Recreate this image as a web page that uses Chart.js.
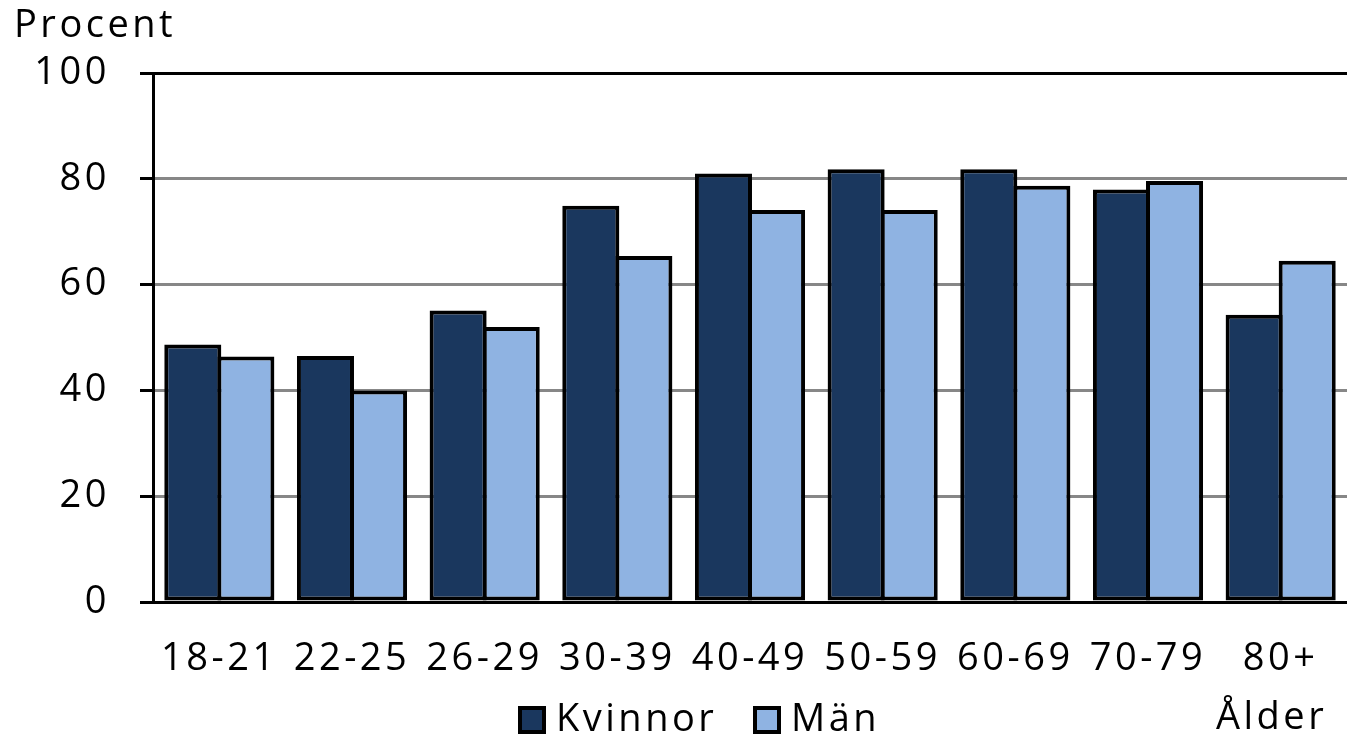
<!DOCTYPE html>
<html>
<head>
<meta charset="utf-8">
<script src="https://cdn.jsdelivr.net/npm/chart.js@4.4.0/dist/chart.umd.min.js"></script>
<style>
  html, body { margin: 0; padding: 0; background: #fff; }
  #wrap { width: 1347px; height: 739px; }
</style>
</head>
<body>
<div id="wrap"><canvas id="c" width="1347" height="739"></canvas></div>
<script>
const ageGroups = ['18-21', '22-25', '26-29', '30-39', '40-49', '50-59', '60-69', '70-79', '80+'];
const kvinnor = [48.7, 46.5, 55.1, 74.9, 81.0, 81.8, 81.8, 78.0, 54.3];
const man = [46.4, 40.0, 52.0, 65.4, 74.1, 74.1, 78.7, 79.6, 64.5];
const yTicks = [0, 20, 40, 60, 80, 100];

const FONT = "'Open Sans', 'Noto Sans', sans-serif";
const SPACING = '3.5px';

// wide letter spacing like the original
const spacing = {
  id: 'spacing',
  beforeInit(chart) { chart.ctx.letterSpacing = SPACING; },
  beforeDraw(chart) { chart.ctx.letterSpacing = SPACING; }
};

// titles and legend drawn on top of the canvas
const extras = {
  id: 'extras',
  afterDraw(chart) {
    const ctx = chart.ctx;
    ctx.save();
    ctx.letterSpacing = SPACING;
    ctx.fillStyle = '#000';
    ctx.font = `38px ${FONT}`;
    ctx.textBaseline = 'middle';
    ctx.textAlign = 'left';
    ctx.fillText('Procent', 14, 26);
    ctx.fillText('Ålder', 1216, 718);

    let x = 520;
    chart.data.datasets.forEach(ds => {
      ctx.fillStyle = ds.backgroundColor;
      ctx.fillRect(x, 708, 24, 24);
      ctx.lineWidth = 4;
      ctx.strokeStyle = '#000';
      ctx.strokeRect(x, 708, 24, 24);
      ctx.fillStyle = '#000';
      ctx.fillText(ds.label, x + 36, 720);
      x += 235;
    });
    ctx.restore();
  }
};

new Chart(document.getElementById('c'), {
  type: 'bar',
  data: {
    labels: ageGroups,
    datasets: [
      { label: 'Kvinnor', data: kvinnor, backgroundColor: '#1a375e', borderColor: '#000', borderWidth: 4, borderSkipped: false },
      { label: 'Män', data: man, backgroundColor: '#8fb3e2', borderColor: '#000', borderWidth: 4, borderSkipped: false }
    ]
  },
  options: {
    responsive: false,
    animation: false,
    layout: { padding: { top: 73, right: 0, left: 0, bottom: 0 } },
    datasets: { bar: { categoryPercentage: 0.8, barPercentage: 1.075 } },
    plugins: { legend: { display: false }, tooltip: { enabled: false } },
    scales: {
      x: {
        grid: { display: false },
        border: { display: true, color: '#000', width: 3 },
        ticks: { color: '#000', font: { family: FONT, size: 38 }, padding: 26, maxRotation: 0 },
        afterFit: s => { s.height = 137; }
      },
      y: {
        min: 0, max: 100,
        afterBuildTicks: s => { s.ticks = yTicks.map(v => ({ value: v })); },
        grid: {
          color: c => c.tick && c.tick.value === 100 ? '#000' : '#878787',
          lineWidth: 3,
          tickColor: '#000',
          tickLength: 13
        },
        border: { display: true, color: '#000', width: 3 },
        ticks: { color: '#000', font: { family: FONT, size: 38 }, padding: 30 },
        afterFit: s => { s.width = 153; }
      }
    }
  },
  plugins: [spacing, extras]
});
</script>
</body>
</html>
